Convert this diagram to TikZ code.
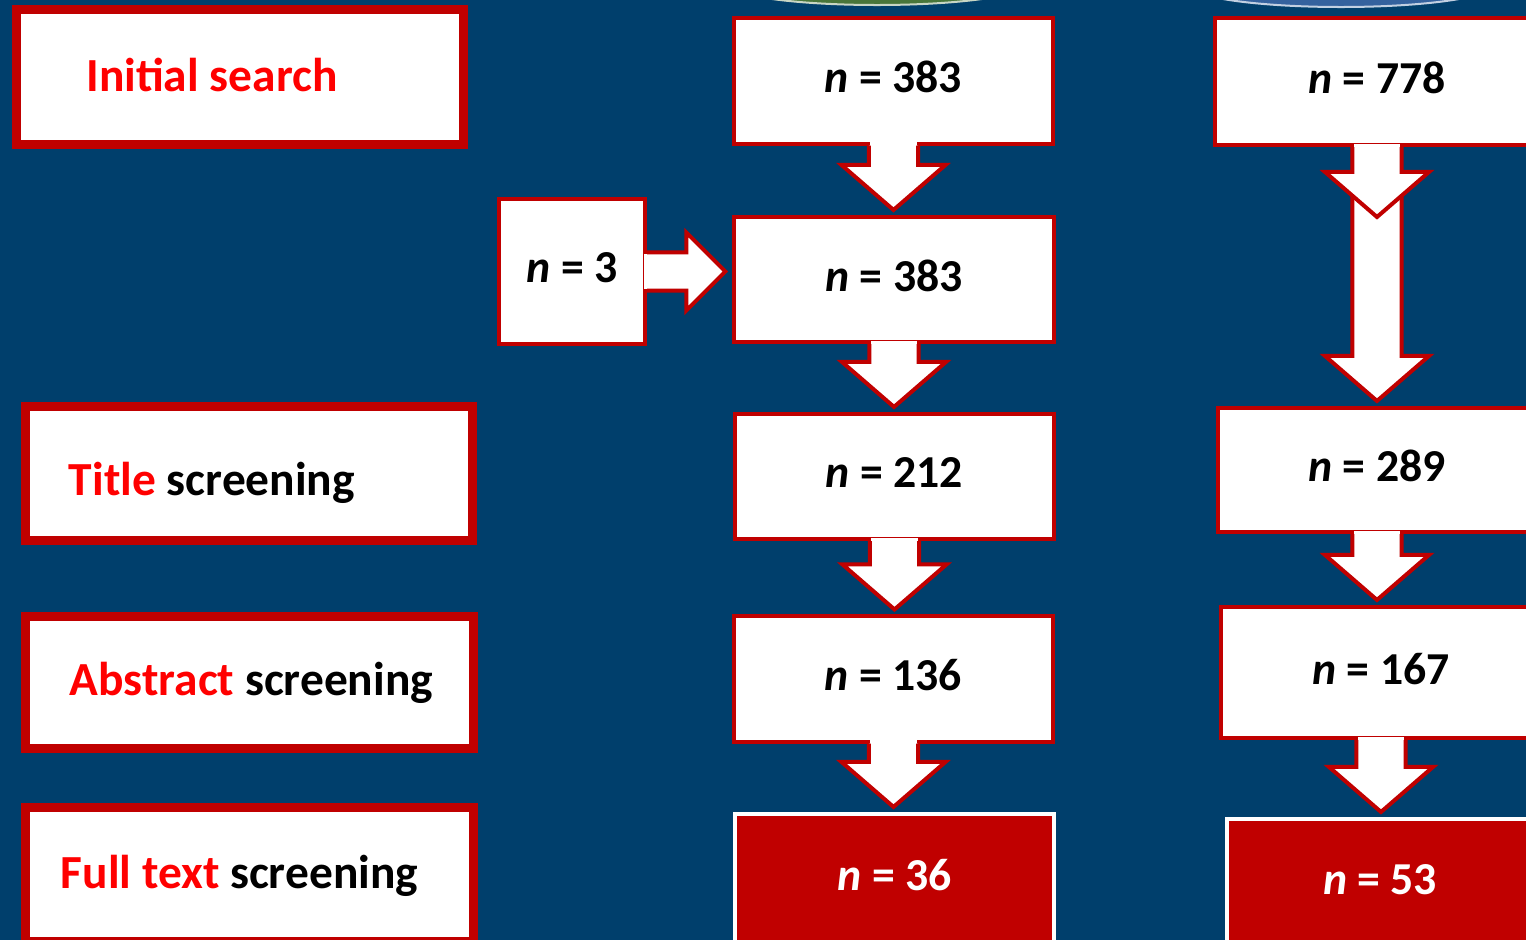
\documentclass[tikz,border=0pt]{standalone}
\usepackage{fontspec}
\setmainfont{Carlito}
\usetikzlibrary{calc,positioning}

\definecolor{slideblue}{RGB}{0,63,108}
\definecolor{boxred}{RGB}{192,0,0}
\definecolor{labelred}{RGB}{255,0,0}
\definecolor{capgreen}{RGB}{72,118,58}
\definecolor{capblue}{RGB}{52,98,158}

% block arrow going down from #1 to #2
\newcommand{\downflow}[2]{%
  \fill[white] let \p1=(#1), \p2=(#2) in
    (\x1-0.23cm,\y1+1pt) rectangle (\x1+0.23cm,\y1-1pt);
  \draw[flow] let \p1=(#1), \p2=(#2) in
    (\x1-0.245cm,\y1) -- (\x1-0.245cm,\y2+0.5cm) -- (\x1-0.52cm,\y2+0.5cm)
    -- (\x1,\y2+0.05cm) -- (\x1+0.52cm,\y2+0.5cm) -- (\x1+0.245cm,\y2+0.5cm)
    -- (\x1+0.245cm,\y1);
}
% block arrow going right from #1 to #2
\newcommand{\rightflow}[2]{%
  \fill[white] let \p1=(#1), \p2=(#2) in
    (\x1-1pt,\y1+0.17cm) rectangle (\x1+1pt,\y1-0.17cm);
  \draw[flow] let \p1=(#1), \p2=(#2) in
    (\x1,\y1+0.19cm) -- (\x2-0.46cm,\y1+0.19cm) -- (\x2-0.46cm,\y1+0.39cm)
    -- (\x2-0.07cm,\y1) -- (\x2-0.46cm,\y1-0.39cm) -- (\x2-0.46cm,\y1-0.19cm)
    -- (\x1,\y1-0.19cm);
}

\begin{document}
\begin{tikzpicture}
  [x=0.01cm,y=-0.01cm,
   stage/.style={draw=boxred,fill=white,line width=0.09cm,minimum width=4.47cm},
   stage text/.style={anchor=base,font=\fontsize{13.5}{16}\selectfont\bfseries},
   count/.style={draw=boxred,fill=white,line width=0.04cm,minimum width=3.19cm,
     minimum height=1.25cm,text depth=0.08cm,font=\fontsize{13}{16}\selectfont\bfseries},
   final count/.style={count,fill=boxred,draw=white,text=white,minimum height=1.3cm},
   flow/.style={draw=boxred,fill=white,line width=0.04cm,line join=miter}]

  \useasboundingbox (0,0) rectangle (1526,940);
  \clip (0,0) rectangle (1526,940);
  \fill[slideblue] (0,0) rectangle (1526,940);

  % caps cut off at the top
  \draw[fill=capgreen,draw=white!70!capgreen,line width=0.02cm]
    (877,-16) ellipse [x radius=1.5cm,y radius=0.21cm];
  \draw[fill=capblue,draw=white!70!capblue,line width=0.02cm]
    (1341,-15) ellipse [x radius=1.53cm,y radius=0.22cm];

  % Stages
  \node[stage,minimum height=1.35cm] (initial) at (240,77) {};
  \node[stage text,text=labelred] (initial text) at ([xshift=-0.28cm,yshift=-0.14cm]initial.center)
    {Initial search};
  \node[stage,minimum height=1.34cm] (title) at (249,473.5) {};
  \node[stage text] (title text) at ([xshift=-0.37cm,yshift=-0.215cm]title.center)
    {\textcolor{labelred}{Title} screening};
  \node[stage,minimum height=1.32cm] (abstract) at (249.5,682.5) {};
  \node[stage text] (abstract text) at ([xshift=0.02cm,yshift=-0.125cm]abstract.center)
    {\textcolor{labelred}{Abstract} screening};
  \node[stage,minimum height=1.34cm] (fulltext) at (249.5,874.5) {};
  \node[stage text] (fulltext text) at ([xshift=-0.1cm,yshift=-0.135cm]fulltext.center)
    {\textcolor{labelred}{Full text} screening};

  % Middle column
  \node[count] (a1) at (893.5,81) {\textit{n} = 383};
  \node[count] (a2) at (894,279.5) {\textit{n} = 383};
  \node[count] (a3) at (894.5,476.5) {\textit{n} = 212};
  \node[count] (a4) at (893.5,679) {\textit{n} = 136};
  \node[final count] (a5) at (894.5,879) {\textit{n} = 36};
  \node[count,minimum width=1.46cm,minimum height=1.45cm] (added) at (572,271.5) {\textit{n} = 3};

  \downflow{a1.south}{a2.north}
  \downflow{a2.south}{a3.north}
  \downflow{a3.south}{a4.north}
  \downflow{a4.south}{a5.north}
  \rightflow{added.east}{a2.west}

  % Right column
  \node[count,minimum width=3.24cm,minimum height=1.27cm] (b1) at (1377,81.5) {\textit{n} = 778};
  \coordinate (b join) at (1377,182);
  \coordinate (b tip) at (1377,222);
  \node[count,minimum width=3.18cm,minimum height=1.24cm] (b2) at (1377,470) {\textit{n} = 289};
  \node[count,minimum width=3.2cm,minimum height=1.31cm] (b3) at (1381,672.5) {\textit{n} = 167};
  \node[final count,minimum width=3.06cm] (b4) at (1380,884) {\textit{n} = 53};

  \downflow{b join}{b2.north}
  \downflow{b1.south}{b tip}
  \downflow{b2.south}{b3.north}
  \downflow{b3.south}{b4.north}

\end{tikzpicture}
\end{document}
